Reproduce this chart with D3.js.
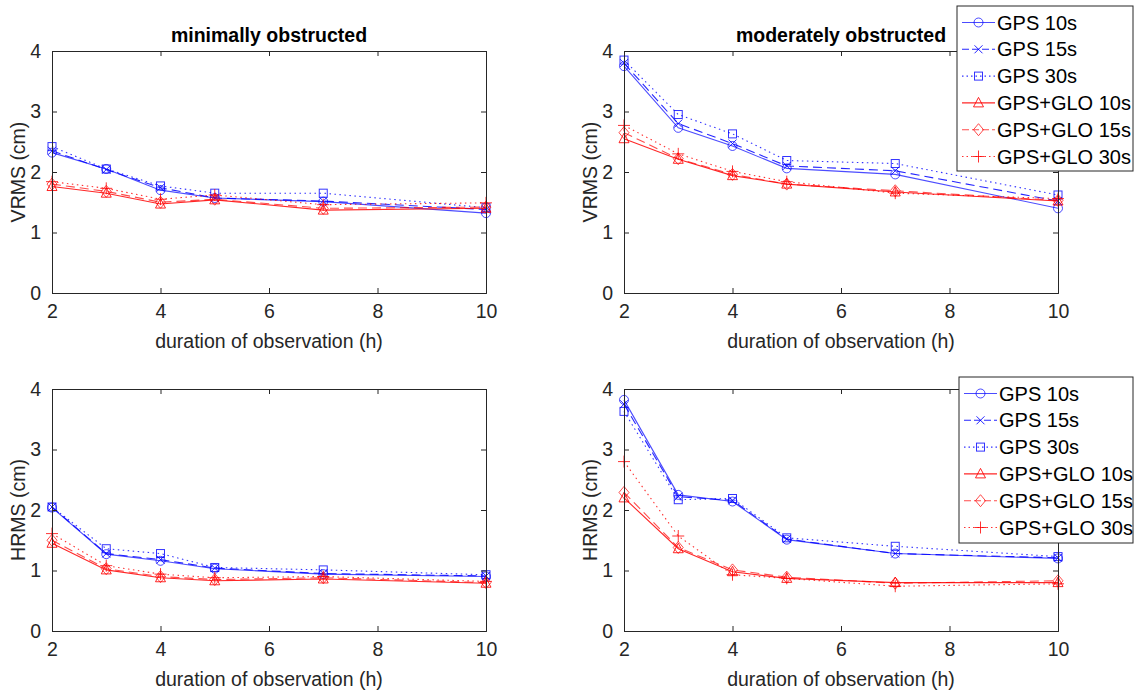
<!DOCTYPE html>
<html><head><meta charset="utf-8">
<script src="https://cdn.jsdelivr.net/npm/d3@7"></script>
<style>body{margin:0;background:#fff;}svg{display:block;font-family:Arial,"Liberation Sans",sans-serif;}</style>
</head><body>
<svg id="c" width="1139" height="694"></svg>
<script>
const hours = [2, 3, 4, 5, 7, 10];
const seriesNames = ["GPS 10s", "GPS 15s", "GPS 30s", "GPS+GLO 10s", "GPS+GLO 15s", "GPS+GLO 30s"];
const xTicks = [2, 4, 6, 8, 10];
const yTicks = [0, 1, 2, 3, 4];

// VRMS minimally obstructed
const vrmsMin = [
  [2.32, 2.05, 1.70, 1.57, 1.51, 1.32],
  [2.35, 2.04, 1.74, 1.57, 1.52, 1.38],
  [2.42, 2.05, 1.77, 1.65, 1.65, 1.41],
  [1.76, 1.65, 1.47, 1.54, 1.37, 1.40],
  [1.80, 1.68, 1.50, 1.55, 1.40, 1.42],
  [1.84, 1.73, 1.55, 1.62, 1.46, 1.49]
];
// VRMS moderately obstructed
const vrmsMod = [
  [3.75, 2.73, 2.43, 2.06, 1.96, 1.40],
  [3.80, 2.80, 2.47, 2.10, 2.02, 1.52],
  [3.85, 2.95, 2.63, 2.19, 2.14, 1.62],
  [2.55, 2.21, 1.94, 1.80, 1.67, 1.52],
  [2.65, 2.22, 1.96, 1.80, 1.69, 1.53],
  [2.77, 2.30, 2.01, 1.84, 1.65, 1.56]
];
// HRMS minimally obstructed
const hrmsMin = [
  [2.04, 1.27, 1.16, 1.03, 0.94, 0.90],
  [2.05, 1.28, 1.18, 1.04, 0.95, 0.91],
  [2.05, 1.36, 1.28, 1.05, 1.01, 0.93],
  [1.45, 1.01, 0.88, 0.83, 0.86, 0.79],
  [1.50, 1.03, 0.90, 0.85, 0.88, 0.80],
  [1.61, 1.08, 0.94, 0.88, 0.90, 0.82]
];
// HRMS moderately obstructed
const hrmsMod = [
  [3.82, 2.25, 2.14, 1.51, 1.28, 1.20],
  [3.75, 2.22, 2.16, 1.52, 1.28, 1.21],
  [3.63, 2.17, 2.19, 1.54, 1.40, 1.23],
  [2.20, 1.36, 0.98, 0.87, 0.80, 0.80],
  [2.29, 1.38, 1.01, 0.89, 0.79, 0.83],
  [2.80, 1.57, 0.93, 0.87, 0.74, 0.78]
];

const styles = [
  {color:"#0000ff", dash:null, marker:"circle", op:0.7},
  {color:"#0000ff", dash:"9,5", marker:"x", op:0.85},
  {color:"#0000ff", dash:"1.5,3.5", marker:"square", op:0.8},
  {color:"#ff0000", dash:null, marker:"triangle", op:0.85},
  {color:"#ff0000", dash:"9,5", marker:"diamond", op:0.7},
  {color:"#ff0000", dash:"1.5,3.5", marker:"plus", op:0.8}
];

const svg = d3.select("#c");
const axisColor = "#262626";
const FS = "19.5px";

function drawMarker(g, type, x, y, color, op) {
  const s = g.append("g").attr("transform", `translate(${x},${y})`)
    .attr("fill","none").attr("stroke",color).attr("stroke-width",1).attr("opacity",op);
  if (type==="circle") s.append("circle").attr("r",4.5);
  else if (type==="square") s.append("rect").attr("x",-4).attr("y",-4).attr("width",8).attr("height",8);
  else if (type==="triangle") s.append("path").attr("d","M0,-5.5L5,4L-5,4Z");
  else if (type==="diamond") s.append("path").attr("d","M0,-6L5,0L0,6L-5,0Z");
  else if (type==="x") s.append("path").attr("d","M-4,-4L4,4M-4,4L4,-4");
  else if (type==="plus") s.append("path").attr("d","M-6,0L6,0M0,-6L0,6");
}

function panel(opts) {
  const {x0, x1, y0, y1, data, title, ylabel, legend} = opts;
  const x = d3.scaleLinear().domain([2,10]).range([x0,x1]);
  const y = d3.scaleLinear().domain([0,4]).range([y0,y1]);
  const g = svg.append("g");

  data.forEach((vals, i) => {
    const st = styles[i];
    const pts = hours.map((h,j)=>[h, vals[j]]);
    g.append("path").datum(pts)
      .attr("d", d3.line().x(d=>x(d[0])).y(d=>y(d[1])))
      .attr("fill","none").attr("stroke",st.color).attr("stroke-width",1.1)
      .attr("stroke-dasharray",st.dash).attr("opacity",st.op);
    pts.forEach(p => drawMarker(g, st.marker, x(p[0]), y(p[1]), st.color, st.op));
  });

  const ax = g.append("g");
  const xb = d3.axisBottom(x).tickValues(xTicks).tickSize(-5).tickPadding(11).tickFormat(d3.format("d"));
  const xt = d3.axisTop(x).tickValues(xTicks).tickSize(-5).tickFormat("");
  const yl = d3.axisLeft(y).tickValues(yTicks).tickSize(-5).tickPadding(11).tickFormat(d3.format("d"));
  const yr = d3.axisRight(y).tickValues(yTicks).tickSize(-5).tickFormat("");
  [[xb,`translate(0,${y0})`],[xt,`translate(0,${y1})`],[yl,`translate(${x0},0)`],[yr,`translate(${x1},0)`]].forEach(([a,t])=>{
    const s = ax.append("g").attr("transform",t).call(a);
    s.select(".domain").attr("stroke",axisColor).attr("stroke-width",1);
    s.selectAll(".tick line").attr("stroke",axisColor);
    s.selectAll(".tick text").attr("fill",axisColor).attr("font-size",FS).style("font-family","Arial, 'Liberation Sans', sans-serif");
  });

  g.append("text").attr("x",(x0+x1)/2).attr("y",y0+55).attr("text-anchor","middle")
    .attr("font-size",FS).attr("fill",axisColor).text("duration of observation (h)");
  g.append("text").attr("transform",`translate(${x0-27},${(y0+y1)/2}) rotate(-90)`).attr("text-anchor","middle")
    .attr("font-size",FS).attr("fill",axisColor).text(ylabel);
  if (title) g.append("text").attr("x",(x0+x1)/2).attr("y",y1-9).attr("text-anchor","middle")
    .attr("font-size",FS).attr("font-weight","bold").attr("fill","#000").text(title);

  if (legend) {
    const {lx, ly, lw, lh} = legend;
    const lg = svg.append("g");
    lg.append("rect").attr("x",lx).attr("y",ly).attr("width",lw).attr("height",lh)
      .attr("fill","#fff").attr("stroke",axisColor).attr("stroke-width",1);
    seriesNames.forEach((name,i)=>{
      const st = styles[i];
      const cy = ly + 16.5 + i*26.8;
      lg.append("line").attr("x1",lx+5).attr("x2",lx+38).attr("y1",cy).attr("y2",cy)
        .attr("stroke",st.color).attr("stroke-width",1.1).attr("stroke-dasharray",st.dash ? (st.dash==="9,5"?"7,3":"1.5,3") : null).attr("opacity",st.op);
      drawMarker(lg, st.marker, lx+21.5, cy, st.color, st.op);
      lg.append("text").attr("x",lx+40).attr("y",cy+7).attr("font-size","20px").attr("fill","#000").text(name);
    });
  }
}

panel({x0:52, x1:486, y0:293, y1:51, data:vrmsMin, title:"minimally obstructed", ylabel:"VRMS (cm)"});
panel({x0:624, x1:1058, y0:293, y1:51, data:vrmsMod, title:"moderately obstructed", ylabel:"VRMS (cm)",
  legend:{lx:957, ly:6, lw:176, lh:165}});
panel({x0:52, x1:486, y0:631, y1:389, data:hrmsMin, title:null, ylabel:"HRMS (cm)"});
panel({x0:624, x1:1058, y0:631, y1:389, data:hrmsMod, title:null, ylabel:"HRMS (cm)",
  legend:{lx:959, ly:377, lw:174, lh:166}});
</script>
</body></html>
